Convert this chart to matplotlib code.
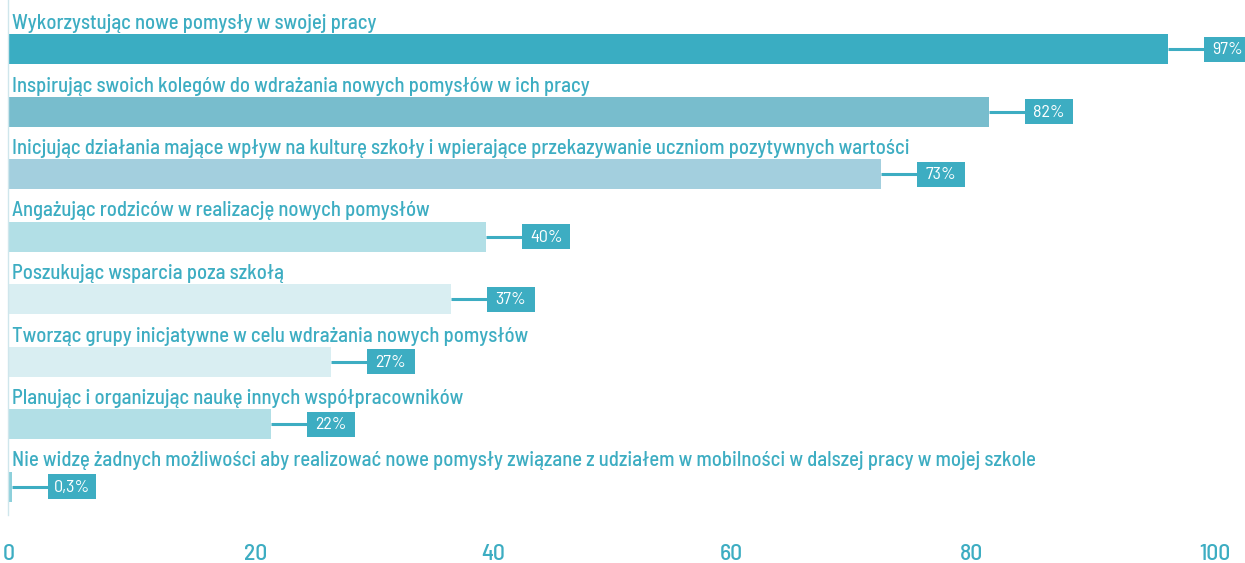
import matplotlib
matplotlib.use("Agg")
import matplotlib.pyplot as plt
from matplotlib.patches import Rectangle
from matplotlib.transforms import ScaledTranslation

labels = [
    "Wykorzystując nowe pomysły w swojej pracy",
    "Inspirując swoich kolegów do wdrażania nowych pomysłów w ich pracy",
    "Inicjując działania mające wpływ na kulturę szkoły i wpierające przekazywanie uczniom pozytywnych wartości",
    "Angażując rodziców w realizację nowych pomysłów",
    "Poszukując wsparcia poza szkołą",
    "Tworząc grupy inicjatywne w celu wdrażania nowych pomysłów",
    "Planując i organizując naukę innych współpracowników",
    "Nie widzę żadnych możliwości aby realizować nowe pomysły związane z udziałem w mobilności w dalszej pracy w mojej szkole",
]
values = [97, 82, 73, 40, 37, 27, 22, 0.3]
value_labels = ["97%", "82%", "73%", "40%", "37%", "27%", "22%", "0,3%"]
bar_colors = ["#3aadc2", "#78bdcd", "#a3cfde", "#b2dfe6", "#d9eef2", "#d9eef2", "#b2dfe6", "#8dd0db"]
xticks = [0, 20, 40, 60, 80, 100]

ACCENT = "#3dadc2"
FONT = ['Barlow Semi Condensed', 'DejaVu Sans']
plt.rcParams['font.family'] = FONT

W, H = 1245, 563
fig = plt.figure(figsize=(W / 100, H / 100), dpi=100)
ax_left, ax_right = 8, 1204
ax_top, ax_bottom = 0, 515
ax = fig.add_axes([ax_left / W, 1 - ax_bottom / H, (ax_right - ax_left) / W, (ax_bottom - ax_top) / H])

n = len(values)
spacing_px = 62.5
first_center_px = 49
ytop = -(first_center_px / spacing_px)
ybot = (n - 1) + (ax_bottom - (first_center_px + (n - 1) * spacing_px)) / spacing_px
ax.set_xlim(0, 100)
ax.set_ylim(ybot, ytop)

px_x = (ax_right - ax_left) / 100.0
px_y = spacing_px
bar_h = 30 / px_y

ys = list(range(n))
ax.barh(ys, values, height=bar_h, color=bar_colors, zorder=2)

for i, (lab, v, vl) in enumerate(zip(labels, values, value_labels)):
    ax.text(4 / px_x, i - bar_h / 2 - 5 / px_y, lab, ha='left', va='baseline',
            color=ACCENT, fontsize=14.95, fontweight='medium')
    gap = 36 / px_x
    bw = 48 / px_x
    bh = 25 / px_y
    ax.plot([v, v + gap], [i, i], color=ACCENT, lw=2.2, zorder=1, clip_on=False, solid_capstyle='butt')
    ax.add_patch(Rectangle((v + gap, i - bh / 2), bw, bh, facecolor=ACCENT, edgecolor='none', clip_on=False, zorder=3))
    ax.text(v + gap + bw / 2, i + 0.01, vl, ha='center', va='center', color='white', fontsize=13,
            fontweight='normal', zorder=4, clip_on=False)

for s in ['top', 'right', 'bottom']:
    ax.spines[s].set_visible(False)
ax.spines['left'].set_color('#cfe6ec')
ax.spines['left'].set_linewidth(1.0)
ax.set_yticks([])
ax.set_xticks(xticks)
ax.set_xticklabels([str(t) for t in xticks])
ax.tick_params(axis='x', length=0, pad=21, labelsize=17, labelcolor=ACCENT)
offsets = [1, 8, 7, 6, 7, 11]
for lab, off in zip(ax.get_xticklabels(), offsets):
    lab.set_fontweight('medium')
    lab.set_transform(lab.get_transform() + ScaledTranslation(off / 100, 0, fig.dpi_scale_trans))

fig.savefig("out.png", dpi=100, facecolor='white')
